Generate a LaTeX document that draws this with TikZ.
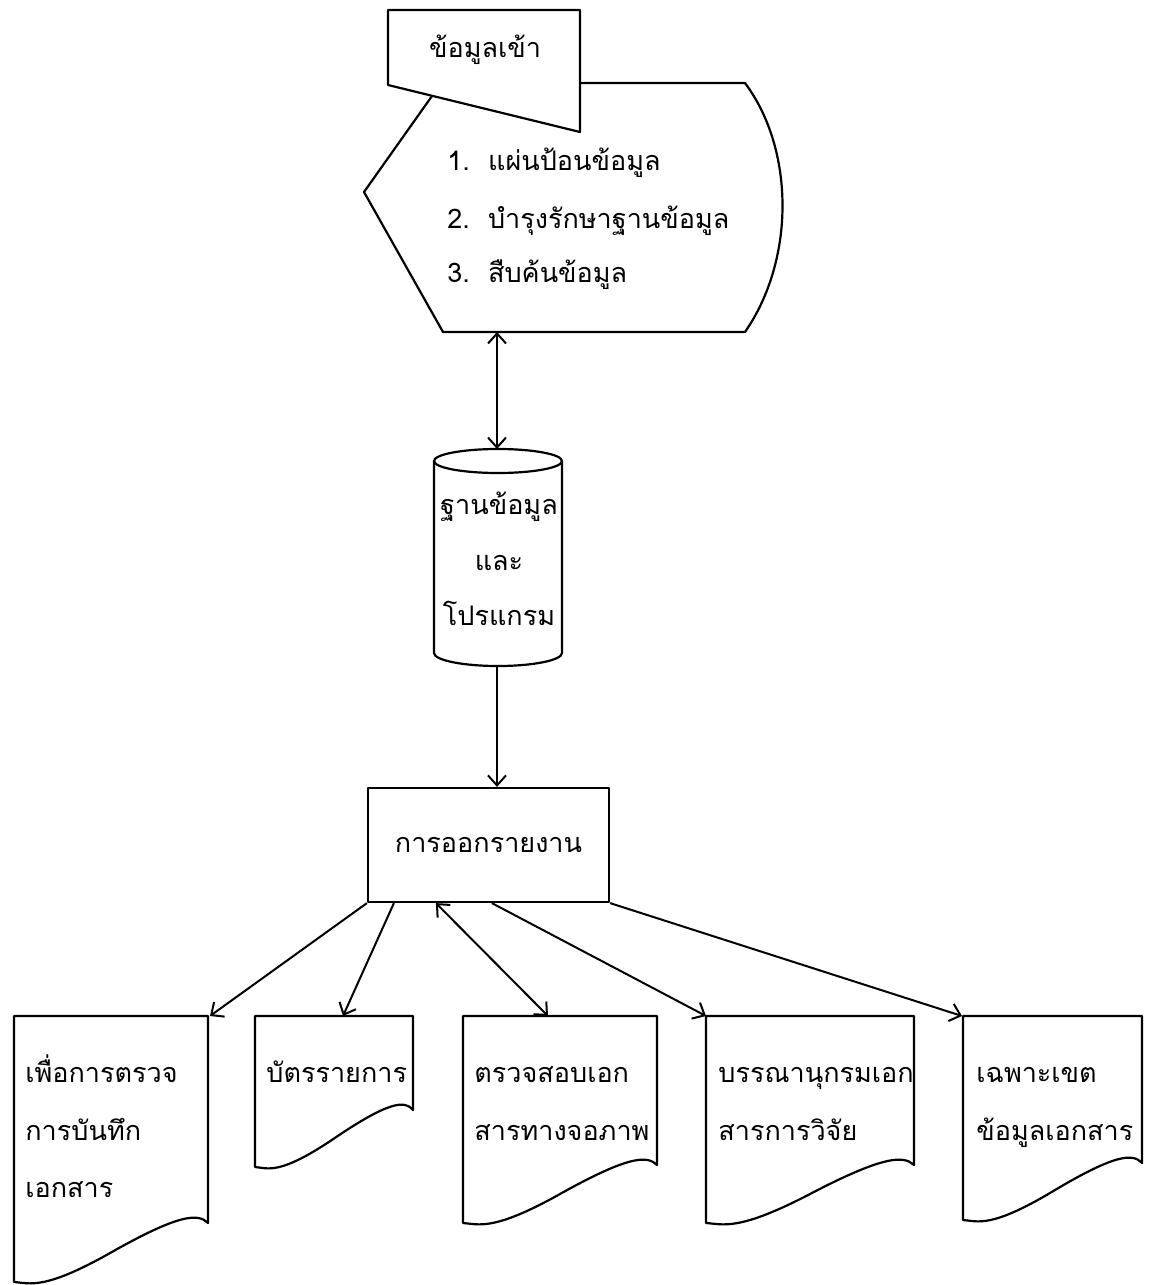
\documentclass[tikz,border=0pt]{standalone}
\usepackage{fontspec}
\newfontfamily\thai[Script=Thai]{Loma}
\usetikzlibrary{arrows.meta}
\tikzset{
  shp/.style={draw=black, line width=1.1pt, line join=round},
  conn/.style={draw=black, line width=1pt},
  tip/.tip={Straight Barb[length=5pt,width=9pt,line width=1pt]},
  txt/.style={inner sep=0pt, font=\thai\fontsize{13.5}{16}\selectfont},
  rbox/.style={shp, fill=white, minimum width=120.5pt, minimum height=57pt, inner sep=0pt, font=\thai\fontsize{13.5}{16}\selectfont}
}
\newcommand\docshape[5]{% L R T Lb Rb
  \pgfmathsetmacro\dw{#2-#1}
  \pgfmathsetmacro\dm{(#4+#5)/2}
  \draw[shp] (#1,#3) -- (#2,#3) -- (#2,#5)
    .. controls ({#2-0.05*\dw},{#5-10}) and ({#1+0.85*\dw},{#5-9}) .. ({#1+0.5*\dw},\dm)
    .. controls ({#1+0.15*\dw},{2*\dm-#5+9}) and ({#1+0.08*\dw},{#4+1}) .. (#1,#4) -- cycle;}
\begin{document}
\begin{tikzpicture}[x=0.5pt,y=-0.5pt]
\useasboundingbox (0,0) rectangle (1151,1285);
% display shape (hexagon with curved right side)
\draw[shp] (432,96) -- (364,192) -- (443,332) -- (745,332)
   .. controls (795,260) and (795,150) .. (745,83) -- (580,83);
% manual input
\draw[shp, fill=white] (388,10) -- (580,10) -- (580,132) -- (388,85) -- cycle;
\node[txt, anchor=base] (inp) at (485,57) {ข้อมูลเข้า};
\node[txt, anchor=base west] (f1) at (447,170) {1.\ \ แผ่นป้อนข้อมูล};
\node[txt, anchor=base west] (f2) at (447,228) {2.\ \ บำรุงรักษาฐานข้อมูล};
\node[txt, anchor=base west] (f3) at (447,282) {3.\ \ สืบค้นข้อมูล};
\coordinate (hexb) at (497,332);
% cylinder
\draw[shp] (434,461) -- (434,653) arc[start angle=180, end angle=0, x radius=64, y radius=13] -- (562,461);
\draw[shp] (498,461) ellipse [x radius=64, y radius=12];
\coordinate (cylt) at (497,449);
\coordinate (cylb) at (497,666);
\node[txt, anchor=base] (db1) at (499,514) {ฐานข้อมูล};
\node[txt, anchor=base] (db2) at (499,570) {และ};
\node[txt, anchor=base] (db3) at (499,625) {โปรแกรม};
% report box
\node[rbox] (rep) at (488.5,845) {การออกรายงาน};
% documents
\docshape{14}{208}{1016}{1282}{1223}
\docshape{255}{413}{1016}{1167}{1110}
\docshape{463}{657}{1016}{1223}{1165}
\docshape{706}{914}{1016}{1223}{1165}
\docshape{963}{1142}{1016}{1220}{1163}
\coordinate (d1) at (210,1016);
\coordinate (d2) at (343,1016);
\coordinate (d3) at (548,1016);
\coordinate (d4) at (706,1016);
\coordinate (d5) at (962,1016);
\node[txt, anchor=base west] (t11) at (25,1082) {เพื่อการตรวจ};
\node[txt, anchor=base west] (t12) at (25,1140) {การบันทึก};
\node[txt, anchor=base west] (t13) at (25,1197) {เอกสาร};
\node[txt, anchor=base west] (t21) at (266,1082) {บัตรรายการ};
\node[txt, anchor=base west] (t31) at (474,1082) {ตรวจสอบเอก};
\node[txt, anchor=base west] (t32) at (474,1140) {สารทางจอภาพ};
\node[txt, anchor=base west] (t41) at (718,1082) {บรรณานุกรมเอก};
\node[txt, anchor=base west] (t42) at (718,1140) {สารการวิจัย};
\node[txt, anchor=base west] (t51) at (976,1082) {เฉพาะเขต};
\node[txt, anchor=base west] (t52) at (976,1140) {ข้อมูลเอกสาร};
% connectors
\draw[conn, tip-tip] (hexb) -- (cylt);
\draw[conn, -tip] (cylb) -- (cylb |- rep.north);
\draw[conn, -tip] (rep.south west) -- (d1);
\draw[conn, -tip] ([xshift=13.5pt]rep.south west) -- (d2);
\draw[conn, tip-tip] ([xshift=34.5pt]rep.south west) -- (d3);
\draw[conn, -tip] ([xshift=62.5pt]rep.south west) -- (d4);
\draw[conn, -tip] (rep.south east) -- (d5);
\end{tikzpicture}
\end{document}
